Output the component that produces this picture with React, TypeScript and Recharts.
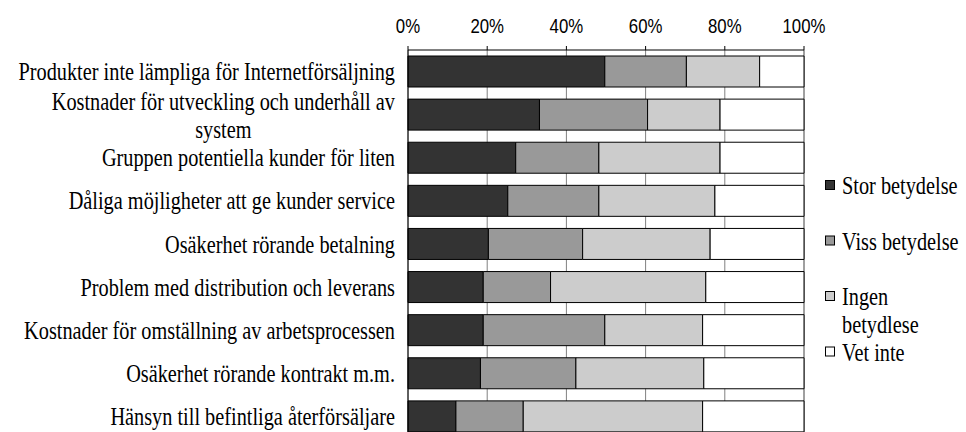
import React from 'react';
import { BarChart, Bar, XAxis, YAxis, CartesianGrid, Legend } from 'recharts';

const categories = [
  'Produkter inte lämpliga för Internetförsäljning',
  'Kostnader för utveckling och underhåll av system',
  'Gruppen potentiella kunder för liten',
  'Dåliga möjligheter att ge kunder service',
  'Osäkerhet rörande betalning',
  'Problem med distribution och leverans',
  'Kostnader för omställning av arbetsprocessen',
  'Osäkerhet rörande kontrakt m.m.',
  'Hänsyn till befintliga återförsäljare',
];

const storBetydelse = [49.7, 33.2, 27.2, 25.2, 20.3, 19.0, 19.0, 18.3, 12.1];
const vissBetydelse = [20.6, 27.3, 21.0, 23.0, 23.8, 17.0, 30.7, 24.1, 17.0];
const ingenBetydelse = [18.5, 18.3, 30.6, 29.3, 32.2, 39.2, 24.7, 32.3, 45.3];
const vetInte = [11.2, 21.2, 21.2, 22.5, 23.7, 24.8, 25.6, 25.3, 25.6];

const seriesNames = ['Stor betydelse', 'Viss betydelse', 'Ingen betydlese', 'Vet inte'];
const seriesColors = ['#333333', '#999999', '#cccccc', '#ffffff'];
const xTicks = [0, 20, 40, 60, 80, 100];

const data = categories.map((name, i) => ({
  name,
  s0: storBetydelse[i],
  s1: vissBetydelse[i],
  s2: ingenBetydelse[i],
  s3: vetInte[i],
}));

const SERIF = "'Liberation Serif', serif";
const SANS = "'Liberation Sans', sans-serif";
const FS = 25;
const SX = 0.812;
const LABEL_MAX = 392;
const LEG_MAX = 122;
const LH = 27.8;
const LEG_STEP = 55.5;

let ctx: CanvasRenderingContext2D | null = null;
function measure(text: string): number {
  if (!ctx) {
    ctx = document.createElement('canvas').getContext('2d');
  }
  if (!ctx) return text.length * FS * 0.45 * SX;
  ctx.font = `${FS}px ${SERIF}`;
  return ctx.measureText(text).width * SX;
}

function wrap(text: string, maxW: number): string[] {
  const words = text.split(' ');
  const lines: string[] = [];
  let cur = '';
  for (const w of words) {
    const t = cur ? cur + ' ' + w : w;
    if (cur && measure(t) > maxW) {
      lines.push(cur);
      cur = w;
    } else {
      cur = t;
    }
  }
  if (cur) lines.push(cur);
  return lines;
}

const YTick = (props: any) => {
  const { x, y, payload } = props;
  const lines = wrap(String(payload.value), LABEL_MAX);
  const widths = lines.map((l) => measure(l));
  const maxW = Math.max(...widths);
  const cx = x - maxW / 2;
  const n = lines.length;
  const base0 = y + 8.5 - ((n - 1) / 2) * LH + (n > 1 ? 0.5 : 0);
  return (
    <text
      transform={`translate(${cx},${base0}) scale(${SX},1)`}
      textAnchor="middle"
      fontFamily={SERIF}
      fontSize={FS}
      style={{ fontFamily: SERIF, fontSize: FS }}
      fill="#000"
    >
      {lines.map((l, j) => (
        <tspan key={j} x={0} dy={j === 0 ? 0 : LH}>
          {l}
        </tspan>
      ))}
    </text>
  );
};

const XTick = (props: any) => {
  const { x, y, payload } = props;
  return (
    <text
      transform={`translate(${x},${y - 11}) scale(0.8,1)`}
      textAnchor="middle"
      fontFamily={SANS}
      fontSize={21}
      style={{ fontFamily: SANS, fontSize: 21 }}
      fill="#000"
    >
      {`${payload.value}%`}
    </text>
  );
};

const LegendContent = (props: any) => {
  const payload = [...(props.payload || [])].sort(
    (a: any, b: any) => seriesNames.indexOf(String(a.value)) - seriesNames.indexOf(String(b.value))
  );
  return (
    <svg width={144} height={230} style={{ display: 'block', overflow: 'visible' }}>
      {payload.map((p: any, i: number) => {
        const lines = wrap(String(p.value), LEG_MAX);
        const base = 29 + i * LEG_STEP;
        return (
          <g key={i}>
            <rect x={3.5} y={base - 13.5} width={9} height={9} fill={p.color} stroke="#000" strokeWidth={1} />
            <text
              transform={`translate(20,${base}) scale(${SX},1)`}
              textAnchor="start"
              fontFamily={SERIF}
              fontSize={FS}
              style={{ fontFamily: SERIF, fontSize: FS }}
              fill="#000"
            >
              {lines.map((l, j) => (
                <tspan key={j} x={0} dy={j === 0 ? 0 : LH}>
                  {l}
                </tspan>
              ))}
            </text>
          </g>
        );
      })}
    </svg>
  );
};

export default function App() {
  return (
    <div style={{ position: 'absolute', left: 0, top: 0, width: 966, height: 432, overflow: 'hidden', background: '#fff' }}>
      <BarChart
        width={966}
        height={438}
        data={data}
        layout="vertical"
        margin={{ top: 0, right: 162, bottom: 0, left: 0 }}
        barSize={31}
      >
        <CartesianGrid horizontal={false} vertical={true} stroke="#808080" />
        <XAxis
          type="number"
          orientation="top"
          domain={[0, 100]}
          ticks={xTicks}
          height={50}
          axisLine={{ stroke: '#000' }}
          tickLine={{ stroke: '#000' }}
          tickSize={4}
          tickMargin={2}
          tick={<XTick />}
          interval={0}
        />
        <YAxis
          type="category"
          dataKey="name"
          width={408}
          axisLine={{ stroke: '#000' }}
          tickLine={false}
          tickSize={0}
          tickMargin={13}
          tick={<YTick />}
          interval={0}
        />
        <Legend
          layout="horizontal"
          align="center"
          verticalAlign="middle"
          content={<LegendContent />}
          wrapperStyle={{ position: 'absolute', left: 822, top: 165, width: 144, height: 230 }}
        />
        {seriesNames.map((nm, i) => (
          <Bar
            key={nm}
            dataKey={`s${i}`}
            name={nm}
            stackId="a"
            fill={seriesColors[i]}
            stroke="#000"
            strokeWidth={1}
            isAnimationActive={false}
          />
        ))}
      </BarChart>
    </div>
  );
}
